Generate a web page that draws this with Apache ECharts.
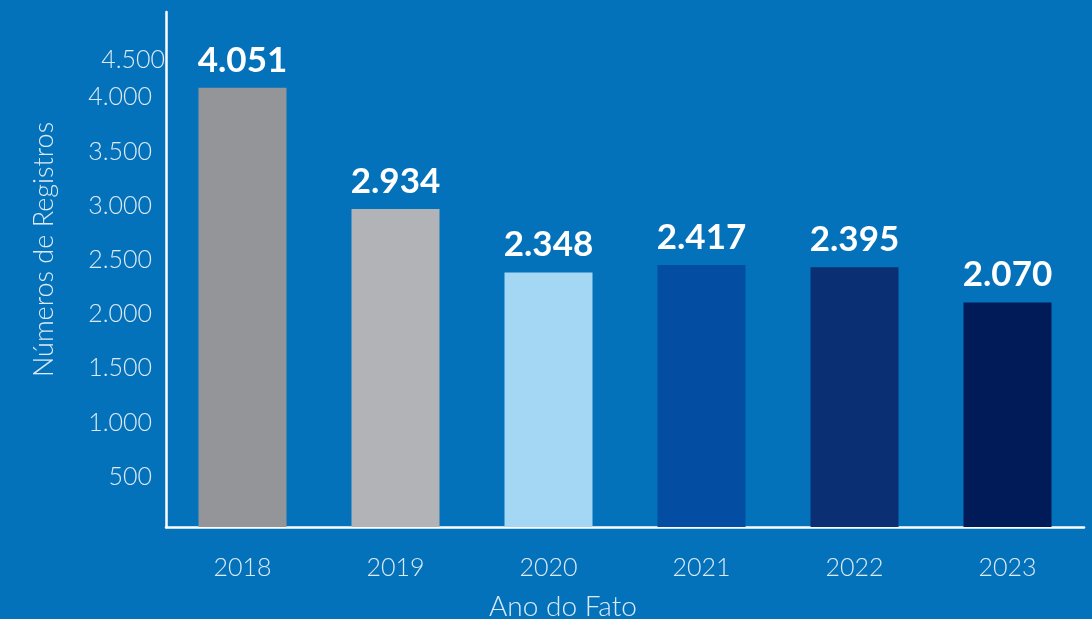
<!DOCTYPE html>
<html>
<head>
<meta charset="utf-8">
<script src="https://cdn.jsdelivr.net/npm/echarts@6/dist/echarts.min.js"></script>
<style>
html,body{margin:0;padding:0;background:#0472BA;}
#c{width:1092px;height:619px;}
</style>
</head>
<body>
<div id="c"></div>
<script>
var categories = ['2018', '2019', '2020', '2021', '2022', '2023'];
var registros = [4051, 2934, 2348, 2417, 2395, 2070];
var barColors = ['#939598', '#B1B3B6', '#A3D7F3', '#034EA2', '#0B2F73', '#001B58'];
var yTicks = [500, 1000, 1500, 2000, 2500, 3000, 3500, 4000, 4500];

function fmt(v) { return String(v).replace(/\B(?=(\d{3})+(?!\d))/g, '.'); }

var chart = echarts.init(document.getElementById('c'), null, {renderer: 'canvas'});
chart.setOption({
  backgroundColor: '#0472BA',
  animation: false,
  grid: {left: 166, right: 8, top: 12, bottom: 92, containLabel: false, outerBoundsMode: 'none'},
  xAxis: {
    type: 'category',
    data: categories,
    axisLine: {show: true, lineStyle: {color: '#ffffff', width: 2.5}},
    axisTick: {show: false},
    axisLabel: {color: '#DDEAF6', fontSize: 25, fontFamily: 'Lato', fontWeight: 300, margin: 28},
    name: 'Ano do Fato',
    nameLocation: 'middle',
    nameGap: 66,
    nameTextStyle: {color: '#DDEAF6', fontSize: 28, fontFamily: 'Lato', fontWeight: 300, padding: [0, 124, 0, 0]}
  },
  yAxis: {
    type: 'value',
    min: 0,
    max: 4750,
    interval: 500,
    axisLine: {show: true, lineStyle: {color: '#ffffff', width: 2.5}},
    axisTick: {show: false},
    splitLine: {show: false},
    axisLabel: {
      color: '#DDEAF6', fontSize: 25, fontFamily: 'Lato', fontWeight: 300, margin: 1,
      formatter: function (v) {
        if (yTicks.indexOf(v) < 0) return '';
        if (v === 4500) return '{t|' + fmt(v) + '}';
        return '{n|' + fmt(v) + '}';
      },
      rich: {
        n: {color: '#DDEAF6', fontSize: 25, fontFamily: 'Lato', fontWeight: 300, padding: [8, 13, 0, 0]},
        t: {color: '#DDEAF6', fontSize: 25, fontFamily: 'Lato', fontWeight: 300, padding: [42, 0, 0, 0]}
      }
    },
    name: 'Números de Registros',
    nameLocation: 'middle',
    nameGap: 108,
    nameTextStyle: {color: '#DDEAF6', fontSize: 27, fontFamily: 'Lato', fontWeight: 300, padding: [0, 0, 0, 40]}
  },
  series: [{
    type: 'bar',
    barWidth: 88,
    data: registros.map(function (v, i) { return {value: v, itemStyle: {color: barColors[i]}}; }),
    label: {
      show: true,
      position: 'top',
      distance: 10,
      color: '#ffffff',
      fontSize: 35,
      fontWeight: 'bold',
      fontFamily: 'Lato',
      formatter: function (p) { return fmt(p.value); }
    }
  }]
});
</script>
</body>
</html>
